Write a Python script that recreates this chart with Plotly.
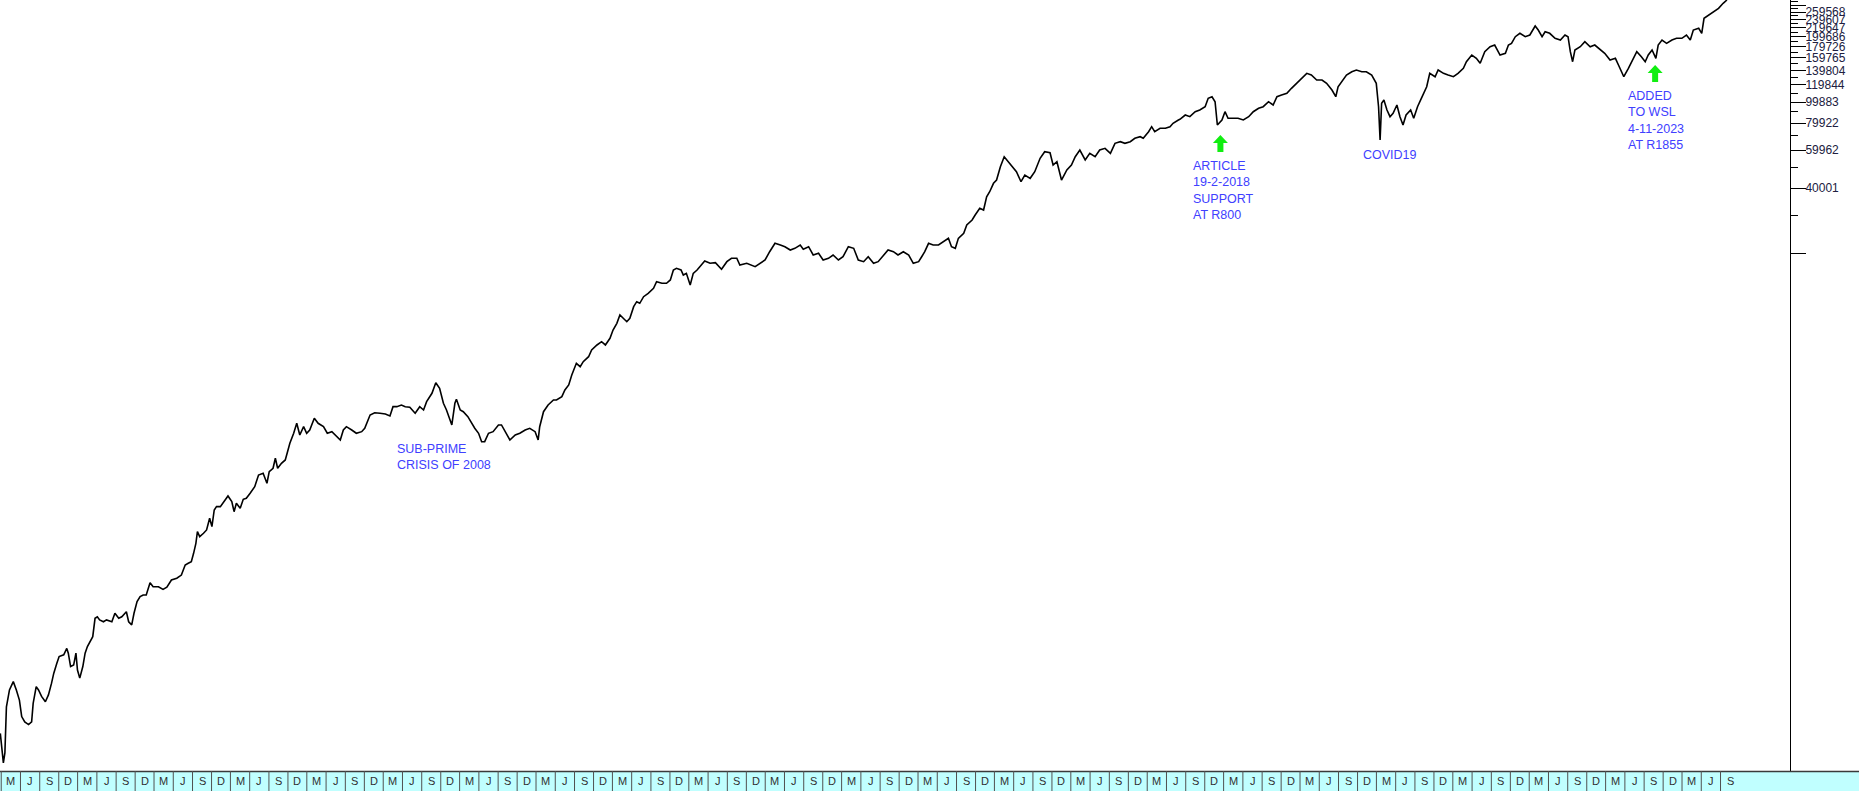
import math
import plotly.graph_objects as go

# ---- data: decimal year, price in cents ----
years = [
 2002.15,2002.19,2002.21,2002.23,2002.27,2002.32,2002.36,2002.40,2002.43,2002.47,2002.52,2002.56,2002.58,2002.62,2002.65,2002.69,2002.74,2002.78,2002.82,2002.85,
 2002.89,2002.92,2002.98,2003.02,2003.04,2003.07,2003.11,2003.14,2003.16,2003.19,2003.23,2003.26,2003.29,2003.32,2003.36,2003.39,2003.42,2003.45,2003.50,2003.54,
 2003.61,2003.65,2003.70,2003.74,2003.80,2003.83,2003.87,2003.90,2003.94,2003.98,2004.02,2004.06,2004.11,2004.15,2004.22,2004.28,2004.33,2004.39,2004.46,2004.52,
 2004.57,2004.61,2004.65,2004.68,2004.71,2004.73,2004.76,2004.81,2004.85,2004.89,2004.92,2004.95,2004.98,2005.03,2005.08,2005.13,2005.18,2005.21,2005.24,2005.29,
 2005.33,2005.37,2005.42,2005.48,2005.53,2005.59,2005.64,2005.67,2005.72,2005.75,2005.78,2005.83,2005.88,2005.91,2005.94,
 2005.99,2006.03,2006.07,2006.12,2006.16,2006.20,2006.26,2006.31,2006.38,2006.43,2006.49,2006.55,2006.60,2006.64,2006.68,2006.75,2006.81,2006.88,2006.92,2006.99,
 2007.05,2007.12,2007.19,2007.25,2007.29,2007.34,2007.40,2007.45,2007.51,2007.58,2007.64,2007.69,2007.73,2007.80,2007.85,2007.90,2007.95,2007.99,2008.06,2008.10,
 2008.12,2008.17,2008.21,2008.27,2008.32,2008.36,2008.41,2008.45,2008.49,2008.54,2008.60,2008.67,2008.71,2008.76,2008.82,2008.89,2008.95,2009.02,2009.08,2009.15,
 2009.19,2009.21,2009.26,2009.32,2009.39,2009.43,2009.50,2009.54,2009.59,2009.63,2009.69,2009.74,2009.78,2009.85,2009.89,2009.96,2010.02,2010.07,2010.13,2010.17,
 2010.22,2010.26,2010.31,2010.35,2010.39,2010.44,2010.48,2010.52,2010.57,2010.63,2010.70,2010.74,2010.81,2010.87,2010.92,2010.96,2011.00,2011.06,2011.09,2011.13,
 2011.18,2011.22,2011.27,2011.33,2011.37,2011.44,2011.51,
 2011.59,2011.66,2011.72,2011.79,2011.83,2011.92,2012.03,2012.09,2012.16,2012.22,2012.29,2012.36,2012.42,2012.49,2012.55,2012.62,2012.66,2012.73,2012.79,2012.86,
 2012.92,2012.99,2013.05,2013.12,2013.18,2013.25,2013.32,2013.38,2013.45,2013.51,2013.58,2013.64,2013.71,2013.77,2013.84,2013.90,2013.97,2014.04,2014.10,2014.17,
 2014.21,2014.25,2014.30,2014.36,2014.43,2014.49,2014.56,2014.60,2014.65,2014.69,2014.76,2014.80,2014.87,2014.91,2014.97,2015.02,2015.06,2015.10,2015.15,2015.19,
 2015.24,2015.29,2015.34,2015.41,2015.45,2015.51,2015.56,2015.63,2015.69,2015.76,2015.82,2015.89,2015.93,2015.98,2016.04,2016.11,2016.17,2016.22,2016.28,2016.35,
 2016.41,2016.48,2016.54,2016.61,2016.68,2016.74,2016.81,2016.87,2016.94,2017.00,2017.07,2017.11,2017.18,2017.22,2017.26,2017.33,2017.40,2017.46,2017.50,2017.57,
 2017.59,2017.66,2017.72,2017.79,2017.85,2017.92,2017.96,2018.01,2018.05,2018.08,2018.14,2018.18,2018.22,2018.29,2018.35,2018.42,2018.49,2018.55,2018.62,2018.68,
 2018.75,2018.81,2018.86,2018.92,2018.99,2019.05,2019.12,2019.18,2019.25,2019.31,2019.38,2019.45,2019.51,2019.58,2019.63,2019.66,2019.71,2019.77,2019.84,2019.90,
 2019.97,2020.03,2020.10,2020.16,2020.19,2020.21,2020.23,2020.26,2020.30,2020.34,2020.38,2020.43,2020.47,2020.51,2020.55,2020.61,2020.65,2020.70,2020.75,2020.82,
 2020.86,2020.93,2020.97,2021.04,2021.10,2021.17,2021.23,2021.30,2021.34,2021.41,2021.47,
 2021.52,2021.58,2021.65,2021.71,2021.78,2021.85,2021.89,2021.93,2021.98,2022.04,2022.11,2022.17,2022.24,2022.28,2022.33,2022.37,2022.43,2022.50,2022.57,2022.63,
 2022.67,2022.70,2022.73,2022.76,2022.83,2022.89,2022.96,2023.02,2023.09,2023.15,2023.22,2023.29,2023.33,2023.37,2023.40,2023.46,2023.52,2023.57,2023.63,2023.68,
 2023.72,2023.77,2023.82,2023.85,2023.90,2023.96,2024.03,2024.09,2024.16,2024.22,2024.27,2024.31,2024.38,2024.42,2024.45,2024.51,2024.57,2024.64,2024.70,2024.75,
]
prices = [
 123,90,100,163,195,213,195,175,147,139,135,139,169,202,195,182,172,185,209,233,
 259,278,283,303,288,250,254,288,241,221,250,288,309,325,343,417,424,410,402,410,
 402,440,417,424,447,402,389,440,498,525,534,534,608,583,583,567,580,626,638,660,
 734,748,761,831,924,1046,992,1028,1065,1205,1103,1317,1364,1364,1438,1527,1438,1293,1413,1340,
 1475,1491,1572,1686,1908,1943,1748,1977,2049,2278,2049,2161,2238,2443,2671,
 2971,3303,2918,3186,2971,3076,3483,3303,3186,2971,3022,2865,2766,3076,3186,3076,2971,3022,3133,3607,
 3696,3673,3646,3569,3940,3940,4011,3940,3914,3673,3940,3804,4154,4541,5082,4789,4085,3804,3245,4085,
 4261,3804,3736,3543,3303,3133,2971,2717,2717,2971,3022,3245,3245,3022,2766,2918,2971,3076,3133,3022,
 2766,3186,3736,4011,4230,4230,4380,4703,4960,5513,6243,6022,6351,6695,7191,7582,7852,7582,8141,8887,
 9544,10423,10065,9707,10065,11382,12004,11802,12658,13122,13836,14841,14593,14593,15113,16801,17109,16801,15931,16220,
 14330,16220,16801,17719,18486,18040,18156,
 16929,18350,19024,19024,17719,18040,17400,18040,18682,20403,22301,21904,21509,20770,21147,21904,20924,21509,19700,20057,
 18682,19024,19700,18682,19345,21509,21147,18682,18350,19345,18040,18350,19700,20770,20403,19700,20403,19700,18040,18350,
 19345,20403,22301,21904,21904,22688,23516,21509,21147,23516,24800,27084,28564,30118,32336,31754,36566,38563,42156,43656,
 50279,55908,53011,49431,47680,42881,46037,44450,47680,54963,58953,58332,51190,53011,43656,48556,51190,55908,60020,53994,
 57967,55908,60020,61122,57967,64451,65559,64451,65559,67970,69122,67970,72900,76878,72900,75577,75577,76878,79700,82537,
 83147,87027,85478,90130,91784,95060,103900,105680,100210,78260,82537,90130,84030,84030,84030,82537,85478,90130,93450,95060,
 100210,96766,105680,107590,109540,115530,121810,128460,135460,133050,126150,126150,121810,113440,105680,117490,123890,133050,137790,140290,
 137790,137790,133050,121810,95060,66750,98510,102040,91784,85478,88620,96766,85478,78260,87027,91784,84030,95060,103900,117490,
 135460,130640,140290,135460,133050,130640,135460,142830,153210,164480,158830,
 150620,170340,179650,182900,164480,167490,182900,186210,199770,207070,199770,203380,223770,214440,199770,210620,207070,196400,192910,203380,
 199770,170340,153210,173470,179650,189430,179650,182900,173470,167490,156000,158830,147910,137790,130640,142830,156000,170340,161560,153210,
 164480,173470,158830,182900,192910,186210,192910,196400,196400,203380,192910,214440,218380,207070,242820,251490,260430,269950,284750,294900,
]

# right-axis ticks (cents)
major_ticks = [20040, 40001, 59962, 79922, 99883, 119844, 139804, 159765, 179726, 199686, 219647, 239607, 259568, 279529]
major_text = ["", "40001", "59962", "79922", "99883", "119844", "139804", "159765", "179726", "199686", "219647", "239607", "259568", ""]
minor_ticks = [30021, 49981, 69942, 89902, 109863, 129824, 149785, 169745, 189706, 209667, 229627, 249588, 269549, 289510]

# bottom strip: quarter letters
quarter_letters = ["M", "J", "S", "D"]
quarter_offsets = [0.162, 0.414, 0.666, 0.915]   # Mar 1, Jun 1, Sep 1, Dec 1 as year fraction
first_year, last_year, last_quarter = 2002, 2024, 2

# annotations
notes = [
    dict(x=2007.32, text="SUB-PRIME<br>CRISIS OF 2008", ypx=440),
    dict(x=2017.73, text="ARTICLE<br>19-2-2018<br>SUPPORT<br>AT R800", ypx=157),
    dict(x=2019.96, text="COVID19", ypx=146),
    dict(x=2023.425, text="ADDED<br>TO WSL<br>4-11-2023<br>AT R1855", ypx=87),
]
arrows = [dict(x=2018.12, ypx=135), dict(x=2023.81, ypx=65)]

W, H = 1859, 791
ML, MR, MT, MB = 0, 69, 0, 20
plot_h = H - MT - MB
x0_year = 2002.146
px_per_year = 76.4
x1_year = x0_year + (W - ML - MR) / px_per_year

fig = go.Figure()
fig.add_trace(go.Scatter(x=years, y=prices, mode="lines",
                         line=dict(color="black", width=1.6), hoverinfo="skip"))

shapes = []
# strip background
strip_y0 = -MB / plot_h
strip_y1 = -1 / plot_h
shapes.append(dict(type="rect", xref="paper", yref="paper", x0=0, x1=W / (W - MR),
                   y0=strip_y0, y1=0, fillcolor="#c0ffff", line=dict(width=0), layer="below"))
shapes.append(dict(type="line", xref="paper", yref="paper", x0=0, x1=W / (W - MR),
                   y0=strip_y1 * 0.5, y1=strip_y1 * 0.5, line=dict(color="#3a3a3a", width=1.5)))

annotations = []
for yr in range(first_year, last_year + 1):
    for qi in range(4):
        if yr == last_year and qi > last_quarter:
            continue
        start = yr + quarter_offsets[qi]
        nxt = (yr + quarter_offsets[qi + 1]) if qi < 3 else (yr + 1 + quarter_offsets[0])
        shapes.append(dict(type="line", xref="x", yref="paper", x0=start, x1=start,
                           y0=strip_y0, y1=0, line=dict(color="#505050", width=1)))
        annotations.append(dict(x=(start + nxt) / 2, y=strip_y0 / 2, xref="x", yref="paper",
                                text=quarter_letters[qi], showarrow=False, xanchor="center",
                                yanchor="middle", font=dict(size=11, color="#303030",
                                family="Liberation Sans, Arial, sans-serif")))

arrow_path = "M0,0 L7.5,-8 L3,-8 L3,-17 L-3,-17 L-3,-8 L-7.5,-8 Z"
for a in arrows:
    shapes.append(dict(type="path", xref="x", yref="paper", xsizemode="pixel", ysizemode="pixel",
                       xanchor=a["x"], yanchor=1 - a["ypx"] / plot_h, path=arrow_path,
                       fillcolor="#11ee11", line=dict(width=0)))

for n in notes:
    annotations.append(dict(x=n["x"], y=1 - n["ypx"] / plot_h, xref="x", yref="paper",
                            text=n["text"], showarrow=False, xanchor="left", yanchor="top",
                            align="left", font=dict(size=12.5, color="#4040ff",
                            family="Liberation Sans, Arial, sans-serif")))

fig.update_layout(
    width=W, height=H,
    margin=dict(l=ML, r=MR, t=MT, b=MB, pad=0),
    paper_bgcolor="white", plot_bgcolor="white",
    showlegend=False,
    shapes=shapes, annotations=annotations,
    xaxis=dict(range=[x0_year, x1_year], showticklabels=False, ticks="", showgrid=False,
               zeroline=False, showline=False),
    yaxis=dict(type="log", side="right",
               range=[math.log10(82.5), math.log10(294900)],
               tickmode="array", tickvals=major_ticks, ticktext=major_text,
               ticks="outside", ticklen=15, tickwidth=1, tickcolor="black",
               ticklabelstandoff=-3,
               showline=True, linecolor="black", linewidth=1,
               showgrid=False, zeroline=False,
               tickfont=dict(size=12, color="#202040", family="Liberation Sans, Arial, sans-serif"),
               minor=dict(tickmode="array", tickvals=minor_ticks, ticks="outside",
                          ticklen=7, tickcolor="black", showgrid=False)),
)

fig.write_html("out.html", config={"displayModeBar": False},
               post_script="document.body.style.margin='0';document.body.style.overflow='hidden';")
